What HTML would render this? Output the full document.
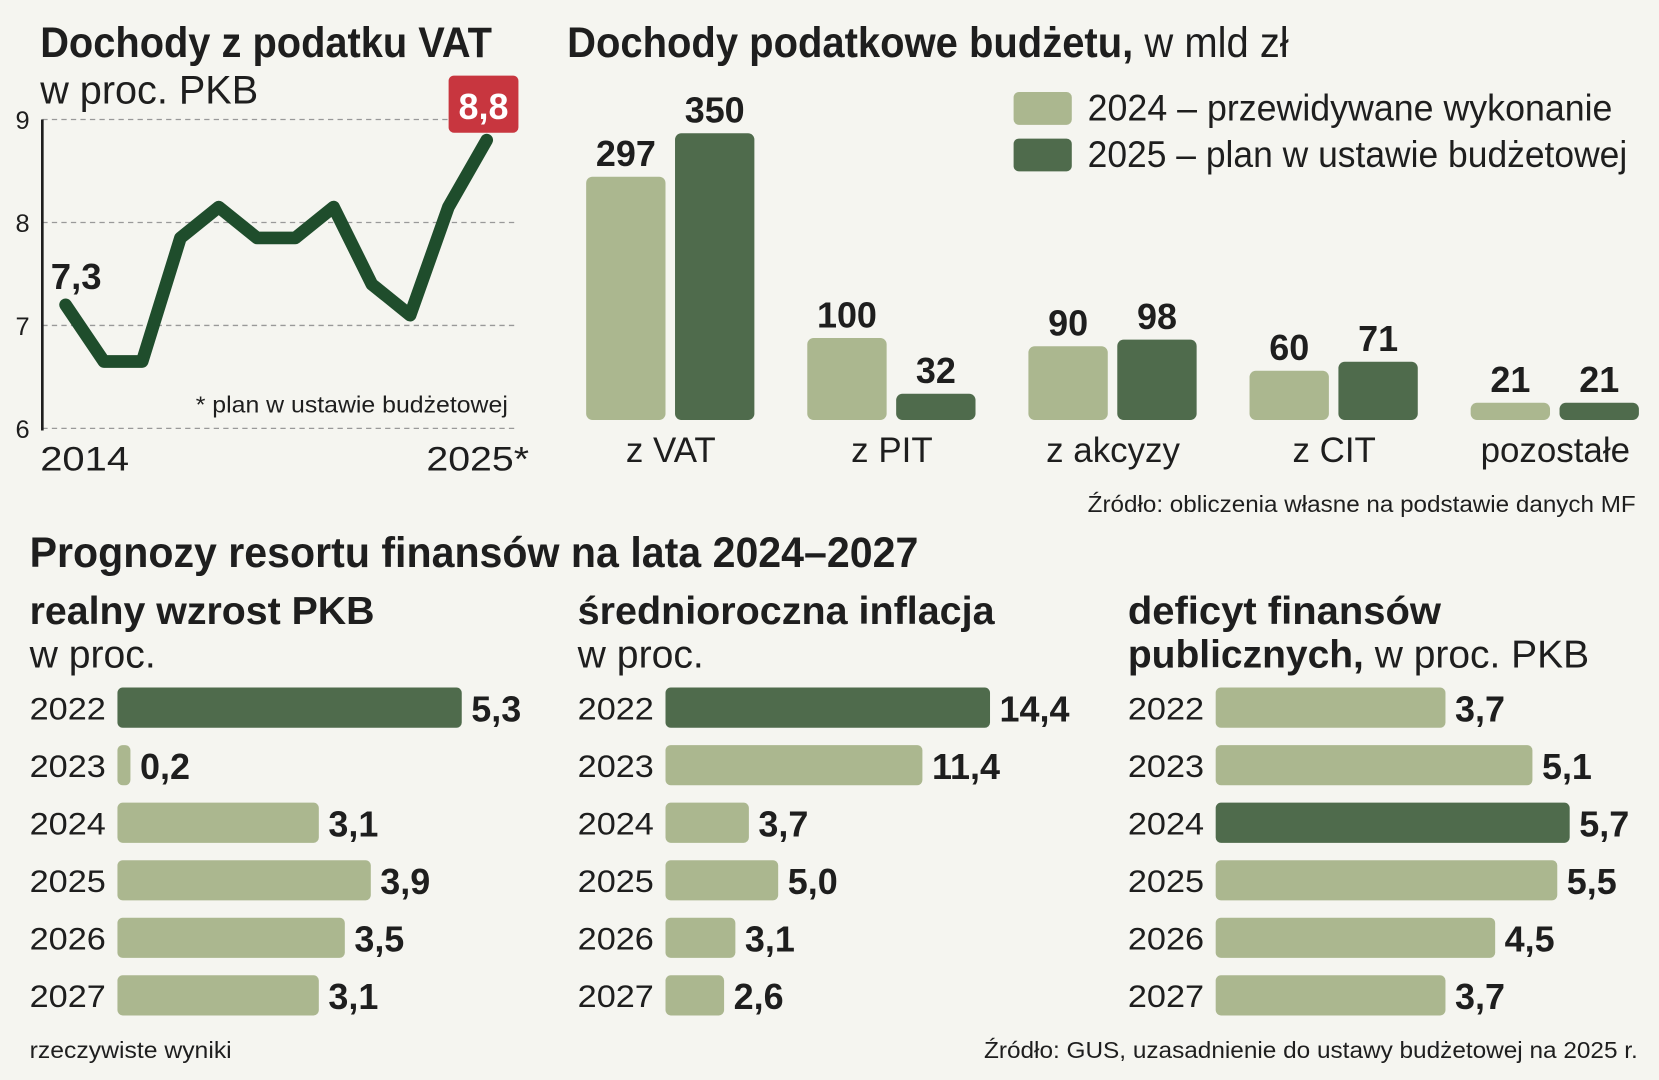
<!DOCTYPE html>
<html><head><meta charset="utf-8"><style>
html,body{margin:0;padding:0;background:#f5f5f0;}
svg{display:block;}
text{font-family:"Liberation Sans Narrow","Liberation Sans",sans-serif;fill:#1e1e1e;}
.b{font-weight:bold;}
</style></head><body>
<svg id="c" width="1659" height="1080" viewBox="0 0 1568 1021" preserveAspectRatio="none" xmlns="http://www.w3.org/2000/svg">
<rect width="1568" height="1021" fill="#f5f5f0"/>
<text class="b" x="38" y="54" font-size="40" textLength="427" lengthAdjust="spacingAndGlyphs">Dochody z podatku VAT</text>
<text x="38" y="98" font-size="38" font-weight="300" textLength="206" lengthAdjust="spacingAndGlyphs">w proc. PKB</text>
<text x="536" y="54" font-size="40" textLength="682" lengthAdjust="spacingAndGlyphs"><tspan class="b">Dochody podatkowe budżetu,</tspan> w mld zł</text>
<rect x="958" y="87" width="55" height="31" rx="5" fill="#abb78f"/>
<text x="1028" y="114" font-size="35" textLength="496" lengthAdjust="spacingAndGlyphs">2024 – przewidywane wykonanie</text>
<rect x="958" y="131" width="55" height="31" rx="5" fill="#4f6b4c"/>
<text x="1028" y="158" font-size="35" textLength="510" lengthAdjust="spacingAndGlyphs">2025 – plan w ustawie budżetowej</text>
<text x="1028" y="484" font-size="22" textLength="518" lengthAdjust="spacingAndGlyphs">Źródło: obliczenia własne na podstawie danych MF</text>
<text class="b" x="28" y="536" font-size="40" textLength="840" lengthAdjust="spacingAndGlyphs">Prognozy resortu finansów na lata 2024–2027</text>
<text class="b" x="28" y="590" font-size="37" textLength="326" lengthAdjust="spacingAndGlyphs">realny wzrost PKB</text>
<text x="28" y="631" font-size="37" font-weight="300">w proc.</text>
<text class="b" x="546" y="590" font-size="37" textLength="394" lengthAdjust="spacingAndGlyphs">średnioroczna inflacja</text>
<text x="546" y="631" font-size="37" font-weight="300">w proc.</text>
<text class="b" x="1066" y="590" font-size="37" textLength="296" lengthAdjust="spacingAndGlyphs">deficyt finansów</text>
<text x="1066" y="631" font-size="37" textLength="436" lengthAdjust="spacingAndGlyphs"><tspan class="b">publicznych,</tspan> w proc. PKB</text>
<text x="28" y="1000" font-size="22" textLength="191" lengthAdjust="spacingAndGlyphs">rzeczywiste wyniki</text>
<text x="930" y="1000" font-size="22" textLength="618" lengthAdjust="spacingAndGlyphs">Źródło: GUS, uzasadnienie do ustawy budżetowej na 2025 r.</text>
<g id="g"></g>
</svg>
<script>
// VAT line chart data
const vatYears = ['2014','2015','2016','2017','2018','2019','2020','2021','2022','2023','2024','2025*'];
const vatValues = [7.2, 6.65, 6.65, 7.85, 8.15, 7.85, 7.85, 8.15, 7.4, 7.1, 8.15, 8.8];
const vatTicks = [6, 7, 8, 9];
// tax revenue bars
const taxCats = ['z VAT','z PIT','z akcyzy','z CIT','pozostałe'];
const tax2024 = [297, 100, 90, 60, 21];
const tax2025 = [350, 32, 98, 71, 21];
// forecasts
const fYears = ['2022','2023','2024','2025','2026','2027'];
const gdpVals = [5.3, 0.2, 3.1, 3.9, 3.5, 3.1];
const gdpLabels = ['5,3','0,2','3,1','3,9','3,5','3,1'];
const infVals = [14.4, 11.4, 3.7, 5.0, 3.1, 2.6];
const infLabels = ['14,4','11,4','3,7','5,0','3,1','2,6'];
const defVals = [3.7, 5.1, 5.7, 5.5, 4.5, 3.7];
const defLabels = ['3,7','5,1','5,7','5,5','4,5','3,7'];

const NS='http://www.w3.org/2000/svg';
const G=document.getElementById('g');
function mk(tag,attrs,txt){const e=document.createElementNS(NS,tag);for(const k in attrs)e.setAttribute(k,attrs[k]);if(txt!==undefined)e.textContent=txt;G.appendChild(e);return e;}
const LIGHT='#abb78f', DARK='#4f6b4c';

// line chart axes
const lx=i=>62+i*(460-62)/(vatYears.length-1);
const ly=v=>405-(v-6)*(405-113)/3;
vatTicks.forEach(t=>{
  const l=mk('line',{x1:40,x2:490,y1:ly(t),y2:ly(t),stroke:'#999','stroke-dasharray':'5,4','stroke-width':1.2});
  
  
  const tx=mk('text',{x:28,y:ly(t)+9,'font-size':24,'text-anchor':'end'},String(t));
  
  
});
const ax=mk('line',{x1:40,x2:40,y1:113,y2:407,stroke:'#1e1e1e','stroke-width':2.5});


const pts=vatValues.map((v,i)=>lx(i)+','+ly(v)).join(' ');
const pl=mk('polyline',{points:pts,fill:'none',stroke:'#1f4d2c','stroke-width':12,'stroke-linejoin':'round','stroke-linecap':'round'});


const t0=mk('text',{x:48,y:273,'font-size':34,'font-weight':'bold',textLength:48,lengthAdjust:'spacingAndGlyphs'},'7,3');


const last=vatValues.length-1;
const rb=mk('rect',{x:lx(last)-36,y:ly(vatValues[last])-61,width:66,height:54,rx:5,fill:'#c8363f'});


const rt=mk('text',{x:lx(last)-3,y:ly(vatValues[last])-20,'font-size':34,'font-weight':'bold','text-anchor':'middle',style:'fill:#fff'},'8,8');


const fn=mk('text',{x:185,y:390,'font-size':22,textLength:295,lengthAdjust:'spacingAndGlyphs'},'* plan w ustawie budżetowej');


const x1=mk('text',{x:38,y:445,'font-size':32,textLength:84,lengthAdjust:'spacingAndGlyphs'},vatYears[0]);


const x2=mk('text',{x:403,y:445,'font-size':32,textLength:97,lengthAdjust:'spacingAndGlyphs'},vatYears[last]);



// tax bars
const base=397, k=(397-126)/350;
taxCats.forEach((c,i)=>{
  const gx=554+i*209;
  [[tax2024[i],LIGHT,0,'2024'],[tax2025[i],DARK,84,'2025']].forEach(([v,col,off,yr])=>{
    const h=v*k;
    const r=mk('rect',{x:gx+off,y:base-h,width:75,height:h,rx:6,fill:col});
    
    
    const t=mk('text',{x:gx+off+37.5,y:base-h-10,'font-size':34,'font-weight':'bold','text-anchor':'middle'},String(v));
    
    
  });
  const ct=mk('text',{x:gx+80,y:437,'font-size':33,'text-anchor':'middle'},c);
  
  
});

// forecast bars
function panel(x0,labX,vals,labels,unit,dark,name){
  fYears.forEach((y,i)=>{
    const cy=669+i*54.4;
    const yt=mk('text',{x:labX,y:cy+11,'font-size':30,textLength:72,lengthAdjust:'spacingAndGlyphs'},y);
    
    
    const w=vals[i]*unit;
    const r=mk('rect',{x:x0,y:cy-19,width:w,height:38,rx:5,fill:i===dark?DARK:LIGHT});
    
    
    const t=mk('text',{x:x0+w+9,y:cy+13,'font-size':34,'font-weight':'bold'},labels[i]);
    
    
  });
}
panel(111,28,gdpVals,gdpLabels,61.4,0,'gdp');
panel(629,546,infVals,infLabels,21.3,0,'inflation');
panel(1149,1066,defVals,defLabels,58.7,2,'deficit');
</script>
</body></html>
